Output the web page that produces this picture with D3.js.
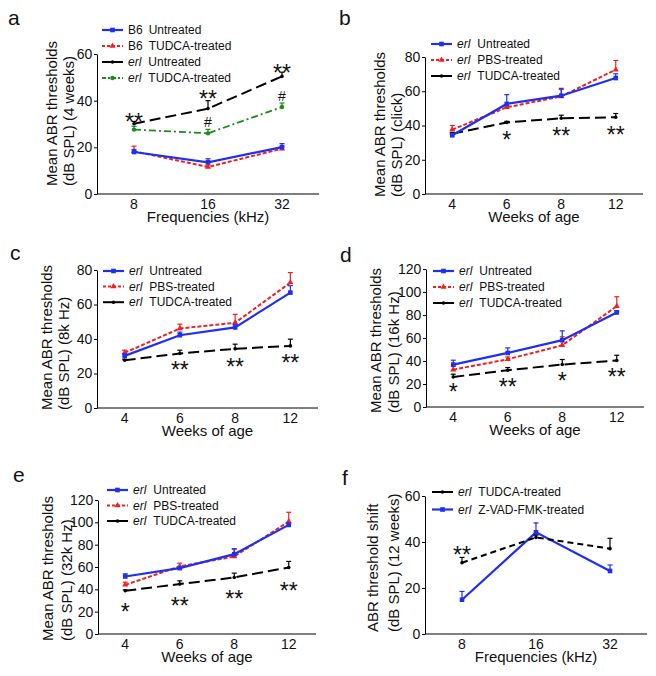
<!DOCTYPE html>
<html>
<head>
<meta charset="UTF-8">
<title>ABR thresholds</title>
<style>
    body { margin: 0; background: #fff; }
    svg text { font-family: "Liberation Sans", Arial, sans-serif; fill: #111; }
    .axis path, .axis line { stroke: #000; stroke-width: 1; }
    .axis text { font-size: 14px; font-family: "Liberation Sans", Arial, sans-serif; fill: #111; }
    .ytitle, .xtitle { font-size: 15px; }
    .legend text { font-size: 12px; }
    .plabel { font-size: 21px; }
    .star { font-size: 23px; text-anchor: middle; }
    .hash { font-size: 14px; text-anchor: middle; }
</style>
</head>
<body>
<svg width="656" height="676"></svg>
<script src="https://d3js.org/d3.v7.min.js"></script>
<script>

var freqs = ["8", "16", "32"];
var weeks = ["4", "6", "8", "12"];

// a: thresholds at 4 weeks by frequency
var aB6Untreated = [18.0, 13.6, 20.1], aB6UntreatedErr = [1.0, 1.5, 1.5];
var aB6Tudca = [18.3, 11.6, 19.4], aB6TudcaErr = [2.2, 0.8, 0.8];
var aErlUntreated = [30.1, 36.6, 50.4], aErlUntreatedErr = [1.0, 3.4, 1.8];
var aErlTudca = [27.6, 26.0, 37.3], aErlTudcaErr = [1.4, 1.7, 1.7];
var aMarks = [["8", "**", 33.1], ["16", "**", 42.7], ["32", "**", 54.1], ["16", "#", 31], ["32", "#", 41.8]];

// b: click
var bUntreated = [34.3, 52.6, 57.4, 67.7], bUntreatedErr = [0.8, 5.4, 4.3, 2.5];
var bPbs = [37.6, 50.6, 57.0, 72.6], bPbsErr = [2.4, 0.8, 4.0, 5.4];
var bTudca = [35.2, 41.8, 44.2, 44.8], bTudcaErr = [0.8, 0.6, 1.8, 2.2];
var bMarks = [["6", "*", 34.6], ["8", "**", 36.6], ["12", "**", 37.6]];

// c: 8k Hz
var cUntreated = [30.2, 42.2, 46.7, 66.9], cUntreatedErr = [1.2, 1.8, 1.8, 4.0];
var cPbs = [32.0, 46.1, 49.4, 72.7], cPbsErr = [1.5, 2.5, 4.9, 5.8];
var cTudca = [27.7, 31.6, 34.3, 36.0], cTudcaErr = [0.6, 1.9, 2.7, 3.9];
var cMarks = [["6", "**", 24.8], ["8", "**", 26.4], ["12", "**", 29.1]];

// d: 16k Hz
var dUntreated = [36.9, 47.0, 58.1, 82.2], dUntreatedErr = [3.8, 4.4, 8.1, 1.5];
var dPbs = [32.5, 41.5, 53.7, 87.7], dPbsErr = [2.9, 2.0, 7.3, 8.2];
var dTudca = [26.1, 32.0, 36.9, 40.4], dTudcaErr = [2.4, 2.3, 4.4, 4.6];
var dMarks = [["4", "*", 17.4], ["6", "**", 21.8], ["8", "*", 27], ["12", "**", 30.5]];

// e: 32k Hz
var eUntreated = [51.5, 59.0, 71.5, 97.7], eUntreatedErr = [2.4, 1.2, 4.8, 1.5];
var ePbs = [44.0, 60.5, 69.4, 100.7], ePbsErr = [2.4, 2.9, 6.6, 8.3];
var eTudca = [38.7, 44.7, 50.6, 59.6], eTudcaErr = [0.8, 2.9, 3.9, 5.4];
var eMarks = [["4", "*", 24.1], ["6", "**", 29.2], ["8", "**", 36], ["12", "**", 42.6]];

// f: threshold shift at 12 weeks
var fTudca = [31.0, 42.0, 37.1], fTudcaErr = [2.3, 1.0, 4.5];
var fZvad = [14.9, 44.2, 27.4], fZvadErr = [3.6, 4.1, 2.6];
var fMarks = [["8", "**", 36.5]];

var BLUE = "#1f2ff0", RED = "#f02020", BLACK = "#000", GREEN = "#1a8c1a";

var sUntr = {color: BLUE, dash: null, marker: "square", width: 2.2};
var sPbs = {color: RED, dash: "4,2", marker: "tri", width: 2};
var sTud = {color: BLACK, dash: "11,5", marker: "dot", width: 2};

function ser(style, erl, label, vals, errs, extra) {
    var s = Object.assign({}, style, {erl: erl, label: label, vals: vals, errs: errs});
    return Object.assign(s, extra || {});
}

var panels = [
    {id: "a", x0: 97, x1: 319, y0: 54, y1: 194, max: 60, cats: freqs,
        title: ["Mean ABR thresholds", "(dB SPL) (4 weeks)"], tb: -8, t1: -40, t2: -23,
        xtitle: "Frequencies (kHz)", lab: [8, 25], leg: [102, 30, 16], marks: aMarks,
        series: [
            ser(sUntr, false, "B6", aB6Untreated, aB6UntreatedErr, {text: "Untreated"}),
            ser(sPbs, false, "B6", aB6Tudca, aB6TudcaErr, {text: "TUDCA-treated"}),
            ser(sTud, true, "erl", aErlUntreated, aErlUntreatedErr, {text: "Untreated"}),
            ser({color: GREEN, dash: "7,3,2,3", marker: "circle", width: 1.8}, true, "erl", aErlTudca, aErlTudcaErr, {text: "TUDCA-treated"})
        ]},
    {id: "b", x0: 425, x1: 643, y0: 57, y1: 194, max: 80, cats: weeks,
        title: ["Mean ABR thresholds", "(dB SPL) (click)"], tb: 3, t1: -40, t2: -23,
        xtitle: "Weeks of age", lab: [339, 25], leg: [431, 44, 16], marks: bMarks,
        series: [
            ser(sUntr, true, "erl", bUntreated, bUntreatedErr, {text: "Untreated"}),
            ser(sPbs, true, "erl", bPbs, bPbsErr, {text: "PBS-treated"}),
            ser(sTud, true, "erl", bTudca, bTudcaErr, {text: "TUDCA-treated"})
        ]},
    {id: "c", x0: 97, x1: 318, y0: 270, y1: 408, max: 80, cats: weeks,
        title: ["Mean ABR thresholds", "(dB SPL) (8k Hz)"], tb: 2, t1: -45, t2: -28,
        xtitle: "Weeks of age", lab: [10, 260], leg: [103, 271, 15.6], marks: cMarks,
        series: [
            ser(sUntr, true, "erl", cUntreated, cUntreatedErr, {text: "Untreated"}),
            ser(sPbs, true, "erl", cPbs, cPbsErr, {text: "PBS-treated"}),
            ser(sTud, true, "erl", cTudca, cTudcaErr, {text: "TUDCA-treated"})
        ]},
    {id: "d", x0: 426, x1: 644, y0: 269, y1: 407, max: 120, cats: weeks,
        title: ["Mean ABR thresholds", "(dB SPL) (16k Hz)"], tb: 6, t1: -45, t2: -27,
        xtitle: "Weeks of age", lab: [340, 262], leg: [433, 271, 16], marks: dMarks,
        series: [
            ser(sUntr, true, "erl", dUntreated, dUntreatedErr, {text: "Untreated"}),
            ser(sPbs, true, "erl", dPbs, dPbsErr, {text: "PBS-treated"}),
            ser(sTud, true, "erl", dTudca, dTudcaErr, {text: "TUDCA-treated"})
        ]},
    {id: "e", x0: 98, x1: 316, y0: 500, y1: 634, max: 120, cats: weeks,
        title: ["Mean ABR thresholds", "(dB SPL) (32k Hz)"], tb: 7, t1: -45, t2: -26,
        xtitle: "Weeks of age", lab: [13, 482], leg: [107, 490, 15.5], marks: eMarks,
        series: [
            ser(sUntr, true, "erl", eUntreated, eUntreatedErr, {text: "Untreated"}),
            ser(sPbs, true, "erl", ePbs, ePbsErr, {text: "PBS-treated"}),
            ser(sTud, true, "erl", eTudca, eTudcaErr, {text: "TUDCA-treated"})
        ]},
    {id: "f", x0: 425, x1: 647, y0: 496, y1: 634, max: 60, cats: freqs,
        title: ["ABR threshold shift", "(dB SPL) (12 weeks)"], tb: -2, t1: -47, t2: -26,
        xtitle: "Frequencies (kHz)", lab: [342, 485], leg: [432, 492, 17.5], marks: fMarks,
        series: [
            ser(sTud, true, "erl", fTudca, fTudcaErr, {text: "TUDCA-treated", dash: "6,4"}),
            ser(sUntr, true, "erl", fZvad, fZvadErr, {text: "Z-VAD-FMK-treated"})
        ]}
];

var svg = d3.select("svg");

function marker(g, type, color, x, y) {
    if (type === "square") {
        g.append("rect").attr("x", x - 2.3).attr("y", y - 2.3).attr("width", 4.6).attr("height", 4.6).attr("fill", color);
    } else if (type === "tri") {
        g.append("path").attr("d", d3.symbol().type(d3.symbolTriangle).size(16)())
            .attr("transform", "translate(" + x + "," + y + ")").attr("fill", color);
    } else if (type === "dot") {
        g.append("circle").attr("cx", x).attr("cy", y).attr("r", 1.8).attr("fill", color);
    } else {
        g.append("circle").attr("cx", x).attr("cy", y).attr("r", 2.2).attr("fill", color);
    }
}

panels.forEach(function (p) {
    var g = svg.append("g").attr("class", "panel-" + p.id);
    var x = d3.scalePoint().domain(p.cats).range([p.x0, p.x1]).padding(0.5);
    var y = d3.scaleLinear().domain([0, p.max]).range([p.y1, p.y0]);

    // axes
    g.append("g").attr("class", "axis")
            .attr("transform", "translate(" + p.x0 + ",0)")
            .call(d3.axisLeft(y).ticks(p.max / 20).tickSize(3).tickSizeOuter(0))
            .selectAll("text").attr("dx", "0.1em");
    g.append("line").attr("x1", p.x0).attr("x2", p.x1).attr("y1", p.y1).attr("y2", p.y1)
            .attr("stroke", "#000").attr("stroke-width", 1);
    g.selectAll(".xt").data(p.cats).enter().append("text")
            .attr("class", "xt").attr("x", function (d) { return x(d); })
            .attr("y", p.y1 + 14.5).attr("text-anchor", "middle")
            .style("font-size", "14px").text(function (d) { return d; });

    // titles
    g.append("text").attr("class", "xtitle").attr("x", (p.x0 + p.x1) / 2).attr("y", p.y1 + 28)
            .attr("text-anchor", "middle").text(p.xtitle);
    [p.t1, p.t2].forEach(function (off, i) {
        g.append("text").attr("class", "ytitle")
                .attr("transform", "translate(" + (p.x0 + off) + "," + (p.y1 + p.tb) + ") rotate(-90)")
                .attr("text-anchor", "start").text(p.title[i]);
    });
    g.append("text").attr("class", "plabel").attr("x", p.lab[0]).attr("y", p.lab[1]).text(p.id);

    // series, drawn back to front
    var line = d3.line().x(function (d) { return x(d.c); }).y(function (d) { return y(d.v); });
    p.series.slice().reverse().forEach(function (s) {
        var pts = p.cats.map(function (c, i) { return {c: c, v: s.vals[i], e: s.errs[i]}; });
        var sg = g.append("g");
        pts.forEach(function (d) {
            var cx = x(d.c), top = y(d.v + d.e);
            sg.append("line").attr("x1", cx).attr("x2", cx).attr("y1", y(d.v)).attr("y2", top)
                    .attr("stroke", s.color).attr("stroke-width", 1.2);
            sg.append("line").attr("x1", cx - 2.5).attr("x2", cx + 2.5).attr("y1", top).attr("y2", top)
                    .attr("stroke", s.color).attr("stroke-width", 1.2);
        });
        sg.append("path").datum(pts).attr("d", line).attr("fill", "none")
                .attr("stroke", s.color).attr("stroke-width", s.width)
                .attr("stroke-dasharray", s.dash);
        pts.forEach(function (d) { marker(sg, s.marker, s.color, x(d.c), y(d.v)); });
    });

    // significance marks
    p.marks.forEach(function (m) {
        if (m[1] === "#") {
            g.append("text").attr("class", "hash").attr("x", x(m[0])).attr("y", y(m[2]) + 5).text(m[1]);
        } else {
            g.append("text").attr("class", "star").attr("x", x(m[0])).attr("y", y(m[2]) + 13).text(m[1]);
        }
    });

    // legend
    var lg = g.append("g").attr("class", "legend");
    p.series.forEach(function (s, i) {
        var ly = p.leg[1] + i * p.leg[2], lx = p.leg[0];
        var ld = s.dash === "4,2" ? "3,2" : (s.dash === "7,3,2,3" ? "4,2,2,2" : null);
        lg.append("line").attr("x1", lx).attr("x2", lx + 21).attr("y1", ly).attr("y2", ly)
                .attr("stroke", s.color).attr("stroke-width", s.width)
                .attr("stroke-dasharray", ld);
        marker(lg, s.marker, s.color, lx + 10.5, ly);
        var t = lg.append("text").attr("x", lx + 26).attr("y", ly + 4);
        t.append("tspan").style("font-style", s.erl ? "italic" : "normal").text(s.label);
        t.append("tspan").attr("dx", s.erl ? 7 : 6).text(s.text);
    });
});

</script>
</body>
</html>
